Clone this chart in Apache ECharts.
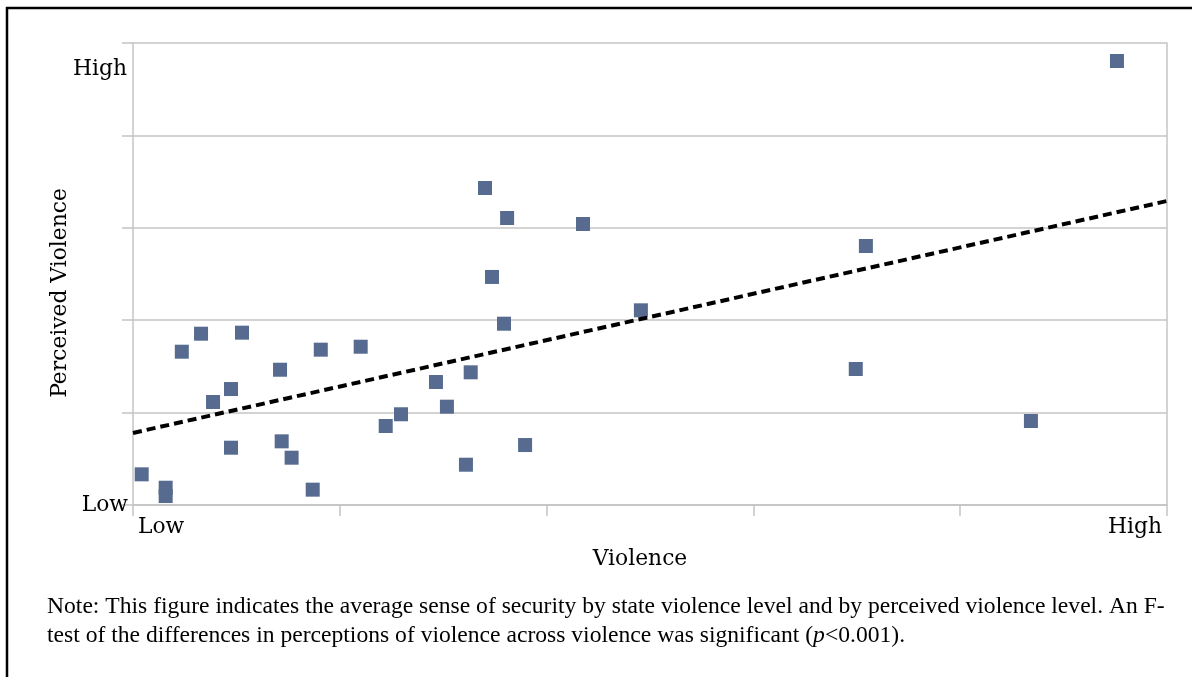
<!DOCTYPE html>
<html><head><meta charset="utf-8">
<script src="https://cdn.jsdelivr.net/npm/echarts@6/dist/echarts.min.js"></script>
<style>html,body{margin:0;padding:0;background:#fff}#c{width:1192px;height:677px}</style>
</head><body><div id="c"></div>
<script>
// ---- data ----
const violence  = [0.042,0.158,0.158,0.236,0.329,0.387,0.474,0.474,0.527,0.711,0.719,0.767,0.869,0.908,1.101,1.222,1.296,1.465,1.518,1.610,1.633,1.702,1.736,1.809,1.794,1.896,2.176,2.456,3.544,3.495,4.342,4.758];
const perceived = [0.332,0.187,0.097,1.659,1.854,1.115,1.255,0.620,1.865,1.464,0.689,0.512,0.166,1.681,1.713,0.855,0.982,1.331,1.064,0.436,1.436,3.431,2.468,3.106,1.962,0.649,3.041,2.107,2.803,1.472,0.909,4.805];
const trendViolence  = [0, 5];
const trendPerceived = [0.78, 3.29];
const xTickValues = [0, 5];
const xTickLabels = ['Low', 'High'];
const yTickValues = [0, 4.74];
const yTickLabels = ['Low', 'High'];
const xTitle = 'Violence';
const yTitle = 'Perceived Violence';
const noteLine1 = 'Note: This figure indicates the average sense of security by state violence level and by perceived violence level. An F-';
const noteLine2a = 'test of the differences in perceptions of violence across violence was significant (';
const noteLine2b = 'p';
const noteLine2c = '<0.001).';

// ---- chart ----
const serif = 'DejaVu Serif';
const noteFont = 'Liberation Serif';
const gridColor = '#c4c4c4';
const fs = 21.8;
const chart = echarts.init(document.getElementById('c'), null, {renderer:'canvas'});
const option = {
  animation: false,
  backgroundColor: '#fff',
  grid: {left: 133, right: 25, top: 43, bottom: 172},
  xAxis: {
    type: 'value', min: 0, max: 5, interval: 1,
    axisLine: {show: true, lineStyle: {color: gridColor, width: 1.5}},
    axisTick: {show: true, length: 11, lineStyle: {color: gridColor, width: 1.5}},
    splitLine: {show: false},
    axisLabel: {
      formatter: v => { const i = xTickValues.indexOf(v); return i >= 0 ? xTickLabels[i] : ''; },
      alignMinLabel: 'left', alignMaxLabel: 'right', margin: 11,
      fontFamily: serif, fontSize: fs, color: '#000', padding: [0, 5, 0, 5]
    },
    name: xTitle, nameLocation: 'middle', nameGap: 43,
    nameTextStyle: {fontFamily: serif, fontSize: fs, color: '#000', padding: [0, 20, 0, 0]}
  },
  yAxis: [{
    type: 'value', min: 0, max: 5, interval: 1,
    axisLine: {show: true, lineStyle: {color: gridColor, width: 1.5}},
    axisTick: {show: true, length: 11, lineStyle: {color: gridColor, width: 1.5}},
    splitLine: {show: true, lineStyle: {color: gridColor, width: 1.5}},
    axisLabel: {
      formatter: v => (v === yTickValues[0] ? yTickLabels[0] : ''),
      margin: 5, fontFamily: serif, fontSize: fs, color: '#000'
    },
    name: yTitle, nameLocation: 'middle', nameGap: 60,
    nameTextStyle: {fontFamily: serif, fontSize: fs, color: '#000', padding: [0, 38, 0, 0]}
  }, {
    type: 'value', position: 'right', min: 0, max: 5, interval: 1,
    axisLine: {show: true, lineStyle: {color: gridColor, width: 1.5}},
    axisTick: {show: false}, axisLabel: {show: false}, splitLine: {show: false}
  }],
  series: [{
    type: 'scatter', yAxisIndex: 0,
    data: violence.map((v, i) => [v, perceived[i]]),
    symbol: 'rect', symbolSize: 14,
    itemStyle: {color: '#566b8f', opacity: 1}
  }, {
    type: 'line', yAxisIndex: 0,
    data: trendViolence.map((v, i) => [v, trendPerceived[i]]),
    symbol: 'none', z: 3,
    lineStyle: {color: '#000', width: 4, type: [9, 5]}
  }]
};
chart.setOption(option);

const xLeft = chart.convertToPixel({xAxisIndex: 0}, 0);
const yHigh = chart.convertToPixel({yAxisIndex: 0}, yTickValues[1]);
chart.setOption({
  graphic: [
    {type: 'line', shape: {x1: 6, y1: 8, x2: 1192, y2: 8}, style: {stroke: '#000', lineWidth: 2.5}, silent: true},
    {type: 'line', shape: {x1: 7, y1: 7, x2: 7, y2: 677}, style: {stroke: '#000', lineWidth: 2.5}, silent: true},
    {type: 'text', x: xLeft - 6, y: yHigh + 2, style: {text: yTickLabels[1], fontFamily: serif, fontSize: fs, fill: '#000', align: 'right', verticalAlign: 'middle'}},
    {type: 'text', x: 47, y: 607, style: {text: noteLine1, fontFamily: noteFont, fontSize: 23.6, fill: '#000', align: 'left', verticalAlign: 'middle'}},
    {type: 'text', x: 47, y: 636, style: {
      text: '{n|' + noteLine2a + '}{i|' + noteLine2b + '}{n|' + noteLine2c + '}',
      rich: {
        n: {fontFamily: noteFont, fontSize: 23.6, fill: '#000', color: '#000'},
        i: {fontFamily: noteFont, fontSize: 23.6, fontStyle: 'italic', fill: '#000', color: '#000'}
      },
      align: 'left', verticalAlign: 'middle'}}
  ]
});
</script></body></html>
